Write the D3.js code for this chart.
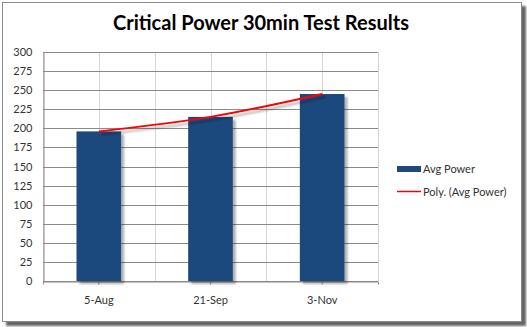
<!DOCTYPE html>
<html>
<head>
<meta charset="utf-8">
<script src="https://cdn.jsdelivr.net/npm/d3@7"></script>
<style>
  body { margin: 0; background: #fff; }
  text { font-family: Lato, "Open Sans", sans-serif; }
</style>
</head>
<body>
<div id="chart"></div>
<script>
// Data
const categories = ["5-Aug", "21-Sep", "3-Nov"];
const avgPower = [196, 215, 245];
const yTicks = [0, 25, 50, 75, 100, 125, 150, 175, 200, 225, 250, 275, 300];
const legendLabels = ["Avg Power", "Poly. (Avg Power)"];

const W = 527, H = 327;
const plot = {left: 43, right: 378, top: 52, bottom: 281};

const svg = d3.select("#chart")
    .append("svg")
    .attr("width", W)
    .attr("height", H);

// Shadow filters
const defs = svg.append("defs");
defs.append("filter").attr("id", "shadow")
    .attr("x", "-20%").attr("y", "-20%").attr("width", "140%").attr("height", "140%")
    .append("feDropShadow")
    .attr("dx", 3).attr("dy", 3).attr("stdDeviation", 1.2)
    .attr("flood-color", "#000").attr("flood-opacity", 0.3);
defs.append("filter").attr("id", "frameShadow")
    .attr("x", "-5%").attr("y", "-5%").attr("width", "110%").attr("height", "110%")
    .append("feDropShadow")
    .attr("dx", 4).attr("dy", 4).attr("stdDeviation", 1)
    .attr("flood-color", "#000").attr("flood-opacity", 0.6);

// Outer frame
svg.append("rect")
    .attr("x", 2.5).attr("y", 2.5)
    .attr("width", 519).attr("height", 319)
    .attr("fill", "#fff")
    .attr("stroke", "#8c8c8c")
    .attr("filter", "url(#frameShadow)");

// Scales
const x = d3.scaleBand()
    .domain(categories)
    .range([plot.left, plot.right])
    .paddingInner(0.6)
    .paddingOuter(0.3);

const xOuter = d3.scaleBand()
    .domain(categories)
    .range([plot.left, plot.right]);

const y = d3.scaleLinear()
    .domain([0, 300])
    .range([plot.bottom, plot.top]);

// Vertical gridlines (band edges and centers)
const vLines = [];
categories.forEach(c => {
    vLines.push(xOuter(c));
    vLines.push(xOuter(c) + xOuter.bandwidth() / 2);
});
vLines.push(plot.right);

svg.append("g")
    .selectAll("line")
    .data(vLines)
    .join("line")
    .attr("x1", d => Math.round(d) + 0.5)
    .attr("x2", d => Math.round(d) + 0.5)
    .attr("y1", plot.top)
    .attr("y2", plot.bottom)
    .attr("stroke", "#d4d4d4");

// Horizontal gridlines
svg.append("g")
    .selectAll("line")
    .data(yTicks)
    .join("line")
    .attr("x1", plot.left)
    .attr("x2", plot.right)
    .attr("y1", d => Math.round(y(d)) + 0.5)
    .attr("y2", d => Math.round(y(d)) + 0.5)
    .attr("stroke", "#8a8a8a");

// Y axis
const yAxis = svg.append("g")
    .attr("transform", `translate(${plot.left + 0.5},0)`)
    .call(d3.axisLeft(y).tickValues(yTicks).tickSize(0).tickPadding(11));
yAxis.select(".domain").attr("stroke", "#8a8a8a");
yAxis.selectAll("text")
    .attr("font-size", 11)
    .attr("fill", "#333");

// X axis
const xAxis = svg.append("g")
    .attr("transform", `translate(0,${Math.round(plot.bottom) + 0.5})`)
    .call(d3.axisBottom(xOuter).tickSizeInner(3).tickSizeOuter(3).tickPadding(12));
xAxis.select(".domain").attr("stroke", "#8a8a8a");
xAxis.selectAll(".tick line").attr("stroke", "#8a8a8a");
xAxis.selectAll("text")
    .attr("font-size", 11)
    .attr("fill", "#333");

// Bars
svg.append("g")
    .attr("filter", "url(#shadow)")
    .selectAll("rect")
    .data(avgPower)
    .join("rect")
    .attr("x", (d, i) => x(categories[i]))
    .attr("y", d => y(d))
    .attr("width", x.bandwidth())
    .attr("height", d => y(0) - y(d))
    .attr("fill", "#1f497d");

// Polynomial trendline (order 2 through the three points)
const trend = d3.line()
    .x((d, i) => xOuter(categories[i]) + xOuter.bandwidth() / 2)
    .y(d => y(d))
    .curve(d3.curveNatural);

svg.append("path")
    .datum(avgPower)
    .attr("d", trend)
    .attr("fill", "none")
    .attr("stroke", "#ff0000")
    .attr("stroke-width", 2)
    .attr("filter", "url(#shadow)");

// Title
const title = svg.append("text")
    .attr("x", 261)
    .attr("y", 30)
    .attr("text-anchor", "middle")
    .attr("font-size", 20)
    .attr("font-weight", "bold")
    .attr("fill", "#000")
    .text("Critical Power 30min Test Results");
const tw = title.node().getComputedTextLength();
title.attr("font-size", 20 * 296 / tw);

// Legend
const legend = svg.append("g");
legend.append("rect")
    .attr("x", 397).attr("y", 166)
    .attr("width", 24).attr("height", 6)
    .attr("fill", "#1f497d");
legend.append("line")
    .attr("x1", 397).attr("x2", 421)
    .attr("y1", 191.5).attr("y2", 191.5)
    .attr("stroke", "#ff0000")
    .attr("stroke-width", 1.5);
legend.selectAll("text")
    .data(legendLabels)
    .join("text")
    .attr("x", 423)
    .attr("y", (d, i) => 173 + i * 23)
    .attr("font-size", 11)
    .attr("fill", "#333")
    .text(d => d);
</script>
</body>
</html>
